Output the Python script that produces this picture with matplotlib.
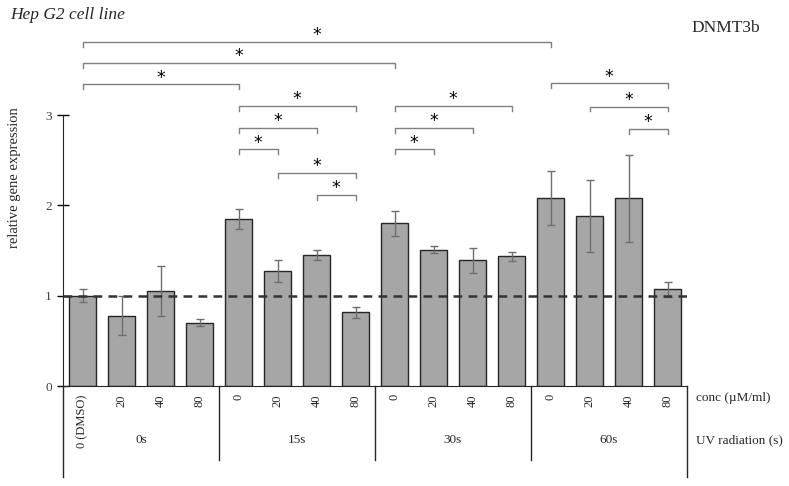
import matplotlib
matplotlib.use('Agg')
import matplotlib.pyplot as plt
import numpy as np

plt.rcParams['font.family'] = ['Liberation Serif', 'DejaVu Serif']

# data
groups = ['0s', '15s', '30s', '60s']
conc_labels = ['0 (DMSO)', '20', '40', '80', '0', '20', '40', '80',
               '0', '20', '40', '80', '0', '20', '40', '80']
values = [1.00, 0.78, 1.05, 0.70,
          1.85, 1.27, 1.45, 0.815,
          1.80, 1.51, 1.39, 1.435,
          2.08, 1.88, 2.08, 1.07]
errors = [0.075, 0.215, 0.28, 0.037,
          0.11, 0.12, 0.055, 0.06,
          0.135, 0.037, 0.143, 0.05,
          0.30, 0.40, 0.48, 0.085]
# significance brackets: (from bar, to bar, height)
brackets = [(0, 12, 3.81), (0, 8, 3.58), (0, 4, 3.34),
            (4, 7, 3.10), (4, 6, 2.855), (4, 5, 2.62), (5, 7, 2.36), (6, 7, 2.115),
            (8, 11, 3.10), (8, 10, 2.855), (8, 9, 2.62),
            (12, 15, 3.35), (13, 15, 3.095), (14, 15, 2.845)]

W, H = 789, 486
fig = plt.figure(figsize=(W / 100, H / 100), dpi=100)
px_per_unit = 90.3
ax_bottom, ax_top = 386, 20
ax = fig.add_axes([63 / W, (H - ax_bottom) / H, 624 / W, (ax_bottom - ax_top) / H])

x = np.arange(len(values))
ax.bar(x, values, width=0.667, color='#a6a6a6', edgecolor='#262626', linewidth=1.0, zorder=2)
ax.errorbar(x, values, yerr=errors, fmt='none', ecolor='#6e6e6e', elinewidth=1.0,
            capsize=3, capthick=1.0, zorder=3)
ax.axhline(1, color='#333333', linestyle=(0, (3.5, 2.5)), linewidth=1.8, zorder=4)

ax.set_xlim(-0.5, len(values) - 0.5)
ax.set_ylim(0, (ax_bottom - ax_top) / px_per_unit)
ax.set_xticks([])
ax.set_yticks([0, 1, 2, 3])
ax.tick_params(axis='y', direction='inout', length=8, width=1, labelsize=9.5,
               labelcolor='#404040', pad=4)
for s in ['top', 'right']:
    ax.spines[s].set_visible(False)
ax.spines['left'].set_bounds(0, 3)
ax.spines['left'].set_color('#262626')
ax.spines['bottom'].set_color('#262626')

# brackets with stars
drop = 0.055
for a, b, h in brackets:
    ax.plot([a, a, b, b], [h - drop, h, h, h - drop], color='#808080', lw=1.0,
            clip_on=False, zorder=5)
    ax.text((a + b) / 2, h + 0.075, '*', ha='center', va='center', fontsize=12.5,
            color='black', family='DejaVu Sans', clip_on=False)

# category table below the axis
line_kw = dict(color='#262626', lw=1.0, clip_on=False)
ax.plot([-0.5, -0.5], [0, -1.01], **line_kw)
ax.plot([15.5, 15.5], [0, -1.01], **line_kw)
for d in [3.5, 7.5, 11.5]:
    ax.plot([d, d], [0, -0.82], **line_kw)
for i, lab in enumerate(conc_labels):
    ax.text(i, -0.09, lab, rotation=90, ha='center', va='top', fontsize=9,
            color='#262626', clip_on=False)
for g, lab in enumerate(groups):
    ax.text(g * 4 + 1.5, -0.60, lab, ha='center', va='center', fontsize=9.5,
            color='#262626', clip_on=False)
ax.text(15.72, -0.13, 'conc (\u00b5M/ml)', ha='left', va='center', fontsize=9.5,
        color='#262626', clip_on=False)
ax.text(15.72, -0.60, 'UV radiation (s)', ha='left', va='center', fontsize=9.5,
        color='#262626', clip_on=False)

fig.text(15 / W, 1 - 178 / H, 'relative gene expression', rotation=90,
         ha='center', va='center', fontsize=10.5, color='#262626')
fig.text(10 / W, 1 - 15 / H, 'Hep G2 cell line', style='italic', ha='left',
         va='center', fontsize=12.5, color='#262626')
fig.text(691 / W, 1 - 28 / H, 'DNMT3b', ha='left', va='center', fontsize=12.5,
         color='#262626')

fig.savefig('out.png', dpi=100)
